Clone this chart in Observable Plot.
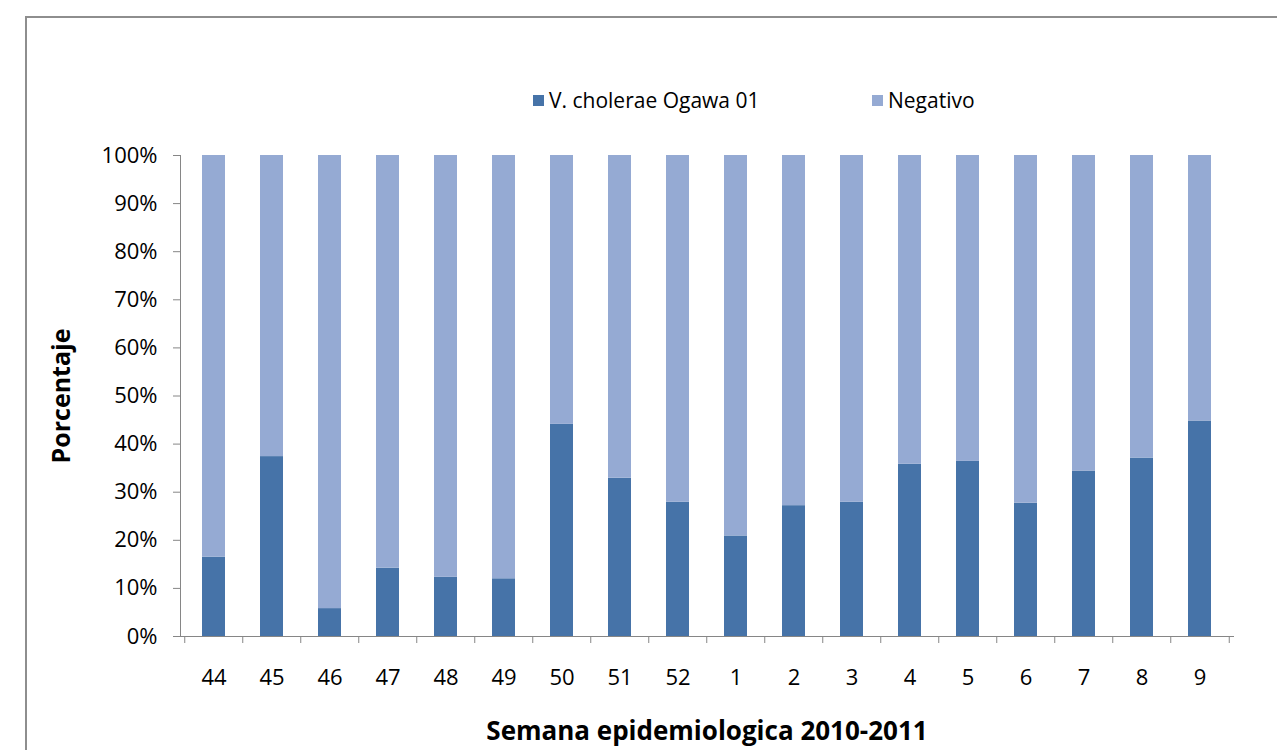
<!DOCTYPE html>
<html><head><meta charset="utf-8">
<script src="https://cdn.jsdelivr.net/npm/d3@7"></script>
<script src="https://cdn.jsdelivr.net/npm/@observablehq/plot@0.6"></script>
<style>
body{margin:0;background:#fff;font-family:"Open Sans",sans-serif;}
#wrap{position:relative;width:1277px;height:750px;overflow:hidden;background:#fff;}
#border{position:absolute;left:25px;top:16px;width:2000px;height:2000px;border-left:2px solid #8e8e8e;border-top:2px solid #8e8e8e;pointer-events:none;}
#legend{position:relative;height:140px;}
.item{position:absolute;top:88px;font-size:21px;line-height:24px;display:flex;align-items:center;color:#000;white-space:nowrap;}
.sw{width:11px;height:11px;margin-right:5px;}
#chart{position:relative;}
</style></head>
<body><div id="wrap"><div id="border"></div><div id="legend"></div><div id="chart"></div></div>
<script>
const semanas = ["44","45","46","47","48","49","50","51","52","1","2","3","4","5","6","7","8","9"];
const ogawa = [16.5, 37.4, 5.8, 14.2, 12.3, 12.0, 44.1, 32.9, 27.9, 20.9, 27.2, 27.9, 35.8, 36.4, 27.7, 34.4, 37.1, 44.8];
const negativo = [83.5, 62.6, 94.2, 85.8, 87.7, 88.0, 55.9, 67.1, 72.1, 79.1, 72.8, 72.1, 64.2, 63.6, 72.3, 65.6, 62.9, 55.2];
const series = ["V. cholerae Ogawa 01", "Negativo"];
const colors = ["#4673a8", "#95aad3"];
const yTicks = [0,10,20,30,40,50,60,70,80,90,100];
const yTitle = "Porcentaje";
const xTitle = "Semana epidemiologica 2010-2011";

const data = [];
semanas.forEach((s,i) => {
  data.push({semana:s, serie:series[0], valor:ogawa[i]});
  data.push({semana:s, serie:series[1], valor:negativo[i]});
});

// legend
const legend = document.getElementById("legend");
const legendX = [533, 872];
series.forEach((s,i) => {
  const it = document.createElement("div");
  it.className = "item";
  it.style.left = legendX[i] + "px";
  it.innerHTML = `<span class="sw" style="background:${colors[i]}"></span><span>${s}</span>`;
  legend.appendChild(it);
});

const W = 1277, H = 610, ML = 180, MR = 44, MT = 15, MB = 114;
const step = (W - ML - MR) / semanas.length;
const axisColor = "#868686";

const plot = Plot.plot({
  width: W, height: H,
  marginLeft: ML, marginRight: MR, marginTop: MT, marginBottom: MB,
  style: {fontFamily: "Open Sans", fontSize: "22px", color: "#000", background: "transparent", overflow: "visible"},
  x: {domain: semanas, paddingInner: 0.6, paddingOuter: 0.3, axis: null},
  y: {domain: [0, 100], axis: null},
  color: {domain: series, range: colors},
  marks: [
    Plot.barY(data, {x: "semana", y: "valor", fill: "serie"}),
    Plot.frame({anchor: "left", stroke: axisColor}),
    Plot.frame({anchor: "bottom", stroke: axisColor}),
    Plot.ruleY(yTicks, {y: d => d, insetLeft: -7, insetRight: W - ML - MR, stroke: axisColor}),
    Plot.ruleX(semanas, {x: d => d, dx: -step/2, insetTop: H - MT - MB, insetBottom: -7, stroke: axisColor}),
    Plot.ruleX([semanas[semanas.length-1]], {x: d => d, dx: step/2, insetTop: H - MT - MB, insetBottom: -7, stroke: axisColor}),
    Plot.axisY({ticks: yTicks, tickFormat: d => d + "%", tickSize: 0, tickPadding: 23, label: null, fontSize: 22}),
    Plot.axisX({tickSize: 0, tickPadding: 33, label: null, fontSize: 22}),
    Plot.text([yTitle], {frameAnchor: "left", dx: -119, rotate: -90, textAnchor: "middle", lineAnchor: "middle", fontWeight: "bold", fontSize: 25, fill: "#000"}),
    Plot.text([xTitle], {frameAnchor: "bottom", dy: 95, textAnchor: "middle", lineAnchor: "middle", fontWeight: "bold", fontSize: 26, fill: "#000"})
  ]
});
document.getElementById("chart").appendChild(plot);
</script>
</body></html>
